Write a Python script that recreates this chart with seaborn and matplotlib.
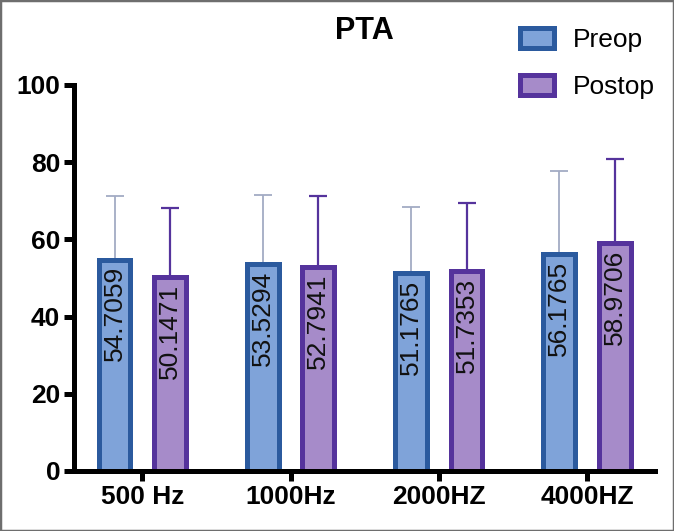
import numpy as np
import seaborn as sns
import pandas as pd
from matplotlib import pyplot as plt
from matplotlib.patches import Rectangle

# Values
freqs = ['500 Hz', '1000Hz', '2000HZ', '4000HZ']
preop = [54.7059, 53.5294, 51.1765, 56.1765]
postop = [50.1471, 52.7941, 51.7353, 58.9706]
preop_sd = [16.5, 17.9, 17.3, 21.6]
postop_sd = [18.0, 18.4, 17.8, 21.8]
groups = ['Preop', 'Postop']

fill_colors = ['#7fa3d9', '#a68bc9']
edge_colors = ['#2b5a9e', '#55339c']
err_colors = ['#a3abc4', '#55339c']

df = pd.DataFrame({
    'freq': freqs * 2,
    'value': preop + postop,
    'group': ['Preop'] * 4 + ['Postop'] * 4,
})

sns.set_style("ticks")
plt.rcParams['font.family'] = ['Liberation Sans', 'DejaVu Sans']

fig = plt.figure(figsize=(6.74, 5.31), dpi=100)
ax = fig.add_axes([0.11, 0.113, 0.862, 0.727])

sns.barplot(data=df, x='freq', y='value', hue='group', hue_order=groups,
            palette=fill_colors, width=0.75, gap=0.43, errorbar=None,
            linewidth=3.6, saturation=1, ax=ax)

bar_sets = list(ax.containers)
sds = [preop_sd, postop_sd]
for i, cont in enumerate(bar_sets):
    xs = []
    for bar in cont:
        bar.set_edgecolor(edge_colors[i])
        bar.set_linewidth(3.6)
        bar.set_zorder(2)
        xs.append(bar.get_x() + bar.get_width() / 2)
    vals = [b.get_height() for b in cont]
    ax.errorbar(xs, vals, yerr=[np.zeros(len(vals)), sds[i]], fmt='none',
                ecolor=err_colors[i], elinewidth=1.3 if i == 0 else 1.6,
                capsize=6.5, capthick=1.3 if i == 0 else 1.6, zorder=1)
    for x, v in zip(xs, vals):
        ax.annotate(f'{v:.4f}', (x, v), xytext=(0, -4.5), textcoords='offset points',
                    rotation=90, ha='center', va='top', fontsize=19, color='#111111',
                    zorder=3)

ax.set_ylim(0, 100)
ax.set_xlim(-0.46, 3.46)
ax.set_yticks([0, 20, 40, 60, 80, 100])
ax.set_xlabel('')
ax.set_ylabel('')
ax.set_title('PTA', fontsize=22, fontweight='bold', pad=33, color='black')

for side in ['top', 'right']:
    ax.spines[side].set_visible(False)
for side in ['left', 'bottom']:
    ax.spines[side].set_linewidth(3.6)
    ax.spines[side].set_color('black')
ax.tick_params(axis='both', width=3.6, length=7.5, labelsize=19, pad=2.5,
               color='black', labelcolor='black')
for lab in ax.get_xticklabels() + ax.get_yticklabels():
    lab.set_fontweight('bold')

ax.get_legend().remove()
leg = fig.legend(bar_sets, groups, loc='upper left', bbox_to_anchor=(0.752, 0.972),
                 frameon=False, fontsize=19, handlelength=1.3, handleheight=0.8,
                 handletextpad=0.7, labelspacing=0.85, borderpad=0)
for t in leg.get_texts():
    t.set_color('black')

# thin gray frame around the picture
fig.patches.append(Rectangle((0, 0), 1, 1, transform=fig.transFigure, fill=False,
                             edgecolor='#6e6e6e', linewidth=2.5))

fig.savefig('out.png', dpi=100)
